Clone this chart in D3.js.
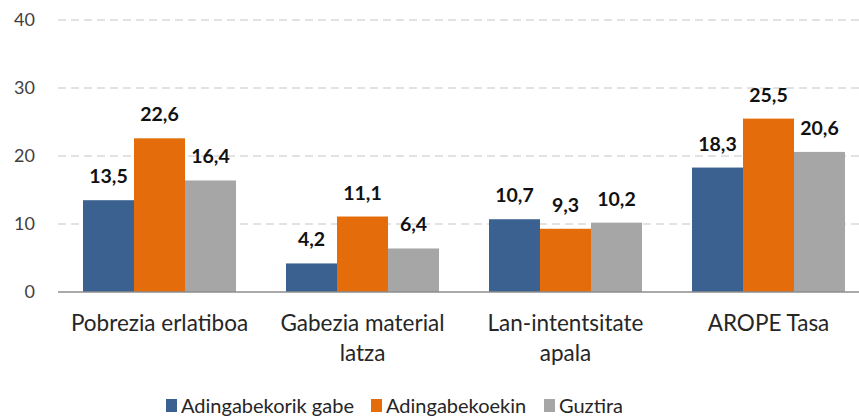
<!DOCTYPE html>
<html>
<head>
<meta charset="utf-8">
<script src="https://cdn.jsdelivr.net/npm/d3@7"></script>
<style>
  body { margin: 0; background: #fff; }
  svg { font-family: Lato, "Open Sans", sans-serif; }
</style>
</head>
<body>
<div id="chart"></div>
<script>
// chart data
var categories = [["Pobrezia erlatiboa"], ["Gabezia material", "latza"], ["Lan-intentsitate", "apala"], ["AROPE Tasa"]];
var seriesNames = ["Adingabekorik gabe", "Adingabekoekin", "Guztira"];
var withoutKids = [13.5, 4.2, 10.7, 18.3];
var withKids = [22.6, 11.1, 9.3, 25.5];
var total = [16.4, 6.4, 10.2, 20.6];
var yTicks = [0, 10, 20, 30, 40];

var colors = ["#3a6190", "#e46c0a", "#a6a6a6"];

var svgWidth = 859, svgHeight = 420;
var svg = d3.select("#chart").append("svg")
  .attr("width", svgWidth)
  .attr("height", svgHeight);

var rows = categories.map(function(c, i) {
  return { label: c, values: [withoutKids[i], withKids[i], total[i]] };
});

var x0 = d3.scaleBand()
  .domain(d3.range(categories.length))
  .range([58, 870])
  .padding(0);

var x1 = d3.scaleBand()
  .domain(d3.range(seriesNames.length))
  .range([25, x0.bandwidth() - 25]);

var y = d3.scaleLinear()
  .domain([0, 40])
  .range([292, 20]);

// gridlines
svg.append("g")
  .selectAll("line")
  .data(yTicks.filter(function(t) { return t > 0; }))
  .enter()
  .append("line")
  .attr("x1", 58)
  .attr("x2", 870)
  .attr("y1", function(d) { return y(d); })
  .attr("y2", function(d) { return y(d); })
  .attr("stroke", "#d9d9d9")
  .attr("stroke-width", 1.5)
  .attr("stroke-dasharray", "8,5");

// y axis labels
var yAxis = d3.axisLeft(y).tickValues(yTicks).tickSize(0).tickPadding(0);
var yG = svg.append("g")
  .attr("transform", "translate(35,0)")
  .call(yAxis);
yG.select(".domain").remove();
yG.selectAll("text")
  .attr("fill", "#404040")
  .style("font-size", "18px")
  .style("font-family", "Lato, sans-serif");

// bars
var groups = svg.append("g")
  .selectAll("g")
  .data(rows)
  .enter()
  .append("g")
  .attr("transform", function(d, i) { return "translate(" + x0(i) + ",0)"; });

groups.selectAll("rect")
  .data(function(d) { return d.values; })
  .enter()
  .append("rect")
  .attr("x", function(d, i) { return x1(i); })
  .attr("width", x1.bandwidth())
  .attr("y", function(d) { return y(d); })
  .attr("height", function(d) { return y(0) - y(d); })
  .attr("fill", function(d, i) { return colors[i]; });

groups.selectAll("text.val")
  .data(function(d) { return d.values; })
  .enter()
  .append("text")
  .attr("class", "val")
  .attr("x", function(d, i) { return x1(i) + x1.bandwidth() / 2; })
  .attr("y", function(d) { return y(d) - 17; })
  .attr("text-anchor", "middle")
  .style("font-size", "19.5px")
  .style("font-weight", "bold")
  .attr("fill", "#111")
  .text(function(d) { return d.toFixed(1).replace(".", ","); });

// baseline
svg.append("line")
  .attr("x1", 58)
  .attr("x2", 870)
  .attr("y1", y(0))
  .attr("y2", y(0))
  .attr("stroke", "#8c8c8c")
  .attr("stroke-width", 1.5);

// category labels
var catText = svg.append("g")
  .selectAll("text")
  .data(rows)
  .enter()
  .append("text")
  .attr("text-anchor", "middle")
  .attr("fill", "#262626")
  .style("font-size", "22.5px")
  .attr("transform", function(d, i) { return "translate(" + (x0(i) + x0.bandwidth() / 2) + ",331)"; });

catText.selectAll("tspan")
  .data(function(d) { return d.label; })
  .enter()
  .append("tspan")
  .attr("x", 0)
  .attr("dy", function(d, i) { return i === 0 ? 0 : 30; })
  .text(function(d) { return d; });

// legend
var legendX = [166, 371, 544];
var legend = svg.append("g")
  .selectAll("g")
  .data(seriesNames)
  .enter()
  .append("g")
  .attr("transform", function(d, i) { return "translate(" + legendX[i] + ",399)"; });

legend.append("rect")
  .attr("width", 11)
  .attr("height", 13)
  .attr("fill", function(d, i) { return colors[i]; });

legend.append("text")
  .attr("x", 15)
  .attr("y", 13.5)
  .attr("fill", "#262626")
  .style("font-size", "20px")
  .text(function(d) { return d; });
</script>
</body>
</html>
